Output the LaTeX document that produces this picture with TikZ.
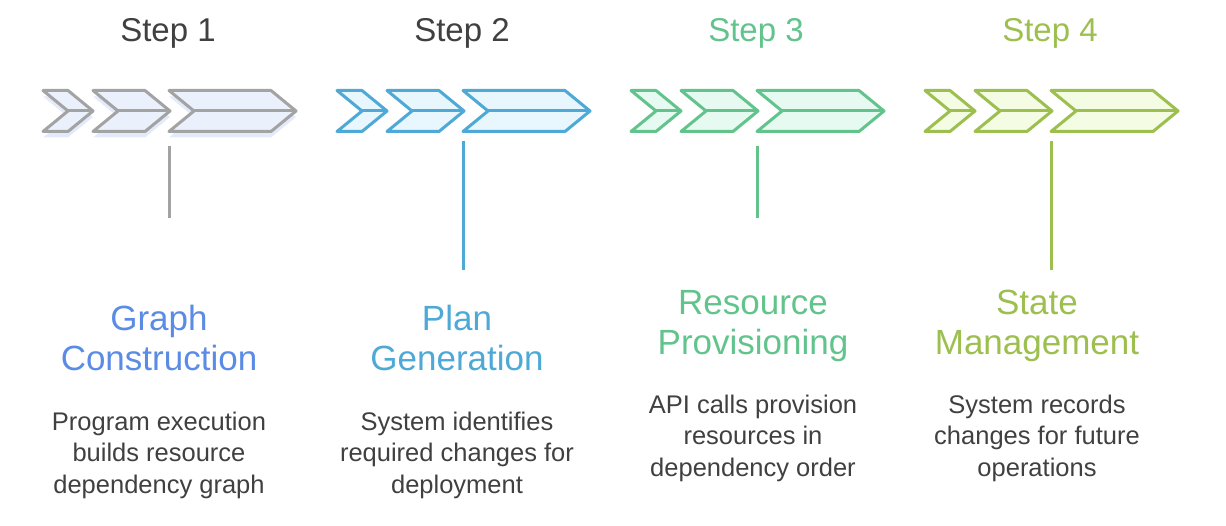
\documentclass[tikz,border=0pt]{standalone}
\usepackage{fontspec}
\setmainfont{Liberation Sans}
\definecolor{txtgray}{HTML}{404040}
\definecolor{lineA}{HTML}{A3A3A3}
\definecolor{fillA}{HTML}{EBF1FC}
\definecolor{shadeA}{HTML}{E2EAFB}
\definecolor{lineB}{HTML}{4EA9D6}
\definecolor{fillB}{HTML}{E8F6FD}
\definecolor{lineC}{HTML}{62C48C}
\definecolor{fillC}{HTML}{E7FAF1}
\definecolor{lineD}{HTML}{9DBF4F}
\definecolor{fillD}{HTML}{F4FCE3}
\definecolor{headA}{HTML}{5B8CE5}
\begin{document}
\begin{tikzpicture}[x=1pt,y=-1pt,line join=round,
                        chev/.style={line width=3pt},
                        title/.style={font=\fontsize{33}{40}\selectfont,anchor=base},
                        head/.style={font=\fontsize{35}{40.5}\selectfont,align=center,anchor=base},
                        desc/.style={font=\fontsize{25.5}{31.5}\selectfont,align=center,anchor=base,text=txtgray},
                        stem/.style={line width=3pt}
                       ]
      \useasboundingbox (0,0) rectangle (1226,526);
      % shadow under the first arrows
      \foreach \a/\b in {0/25,50/102,126/228}
        \fill[shadeA] (43+\a,96.5) -- (43+\b,96.5) -- (43+\b+25,117) -- (43+\b,137.5) -- (43+\a,137.5) -- (43+\a+25,117) -- cycle;
      % the arrows of every step
      \foreach \L/\col/\bg in {43/lineA/fillA,337/lineB/fillB,631/lineC/fillC,925/lineD/fillD}{
        \foreach \a/\b in {0/25,50/102,126/228}{
          \draw[chev,draw=\col,fill=\bg] (\L+\a,90.5) -- (\L+\b,90.5) -- (\L+\b+25,111) -- (\L+\b,131.5) -- (\L+\a,131.5) -- (\L+\a+25,111) -- cycle;
          \draw[chev,draw=\col] (\L+\a+25,111) -- (\L+\b+25,111);
        }
      }
      \node[title,text=txtgray] (t1) at (168,42) {Step 1};
      \node[title,text=txtgray] (t2) at (462,42) {Step 2};
      \node[title,text=lineC] (t3) at (756,42) {Step 3};
      \node[title,text=lineD] (t4) at (1050,42) {Step 4};
      \coordinate (a1) at (169,146);
      \coordinate (b1) at (169,218);
      \coordinate (a2) at (463,141);
      \coordinate (b2) at (463,270);
      \coordinate (a3) at (757,146);
      \coordinate (b3) at (757,218);
      \coordinate (a4) at (1051,141);
      \coordinate (b4) at (1051,270);
      % base = last line
      \node[head,text=headA] (h1) at (159,371) {Graph\\Construction};
      \node[head,text=lineB] (h2) at (457,371) {Plan\\Generation};
      \node[head,text=lineC] (h3) at (753,355) {Resource\\Provisioning};
      \node[head,text=lineD] (h4) at (1037,355) {State\\Management};
      \node[desc] (d1) at (159,493) {Program execution\\builds resource\\dependency graph};
      \node[desc] (d2) at (457,493) {System identifies\\required changes for\\deployment};
      \node[desc] (d3) at (753,476) {API calls provision\\resources in\\dependency order};
      \node[desc] (d4) at (1037,476) {System records\\changes for future\\operations};
      \path%
        (a1) edge[stem,lineA] (b1)
        (a2) edge[stem,lineB] (b2)
        (a3) edge[stem,lineC] (b3)
        (a4) edge[stem,lineD] (b4);
 \end{tikzpicture}
\end{document}
